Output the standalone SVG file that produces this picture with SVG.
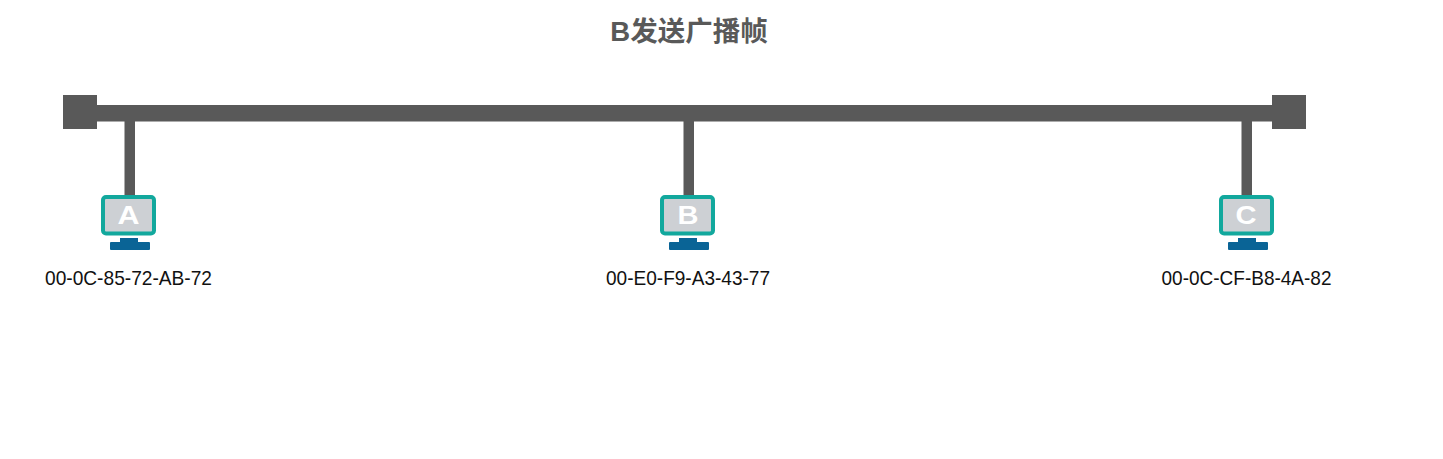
<svg xmlns="http://www.w3.org/2000/svg" width="1443" height="459" viewBox="0 0 1443 459">
<style>
.bus{fill:#595959}
.frame{fill:#cdd0d4;stroke:#12a89d;stroke-width:4}
.stand{fill:#0a6496}
.letter{font:bold 26px "Liberation Sans",Arial,sans-serif;fill:#fff;text-anchor:middle}
.mac{font:21px "Liberation Sans",Arial,sans-serif;fill:#111;text-anchor:middle}
.title{font:bold 27.500px "Liberation Sans","Noto Sans CJK SC",sans-serif;fill:#595959;text-anchor:middle}
</style>
<defs>
<g id="pc">
<rect class="frame" x="2" y="2" width="51" height="36.500" rx="3"/>
<path class="stand" d="M19 43h18v4h11a1 1 0 0 1 1 1v6a1 1 0 0 1-1 1h-38a1 1 0 0 1-1-1v-6a1 1 0 0 1 1-1h9z"/>
</g>
</defs>
<rect width="1443" height="459" fill="#fff"/>
<text class="title" x="689" y="41">B发送广播帧</text>
<g id="connectors">
<rect class="bus" x="90" y="105" width="1190" height="16.500"/>
<rect class="bus" x="124.500" y="120" width="10.500" height="76"/>
<rect class="bus" x="683.500" y="120" width="10.500" height="76"/>
<rect class="bus" x="1241.500" y="120" width="10.500" height="76"/>
</g>
<g id="terminator-left"><rect class="bus" x="63" y="95" width="34" height="34"/></g>
<g id="terminator-right"><rect class="bus" x="1272" y="95" width="34" height="34"/></g>
<g id="node-a">
<use href="#pc" x="101" y="195"/>
<text class="letter" x="128.500" y="223.500" textLength="22" lengthAdjust="spacingAndGlyphs">A</text>
<text class="mac" x="128.500" y="285" textLength="167" lengthAdjust="spacingAndGlyphs">00-0C-85-72-AB-72</text>
</g>
<g id="node-b">
<use href="#pc" x="660" y="195"/>
<text class="letter" x="688" y="223.500" textLength="21" lengthAdjust="spacingAndGlyphs">B</text>
<text class="mac" x="688" y="285" textLength="164" lengthAdjust="spacingAndGlyphs">00-E0-F9-A3-43-77</text>
</g>
<g id="node-c">
<use href="#pc" x="1219" y="195"/>
<text class="letter" x="1246" y="223.500" textLength="21" lengthAdjust="spacingAndGlyphs">C</text>
<text class="mac" x="1246.500" y="285" textLength="170" lengthAdjust="spacingAndGlyphs">00-0C-CF-B8-4A-82</text>
</g>
</svg>
